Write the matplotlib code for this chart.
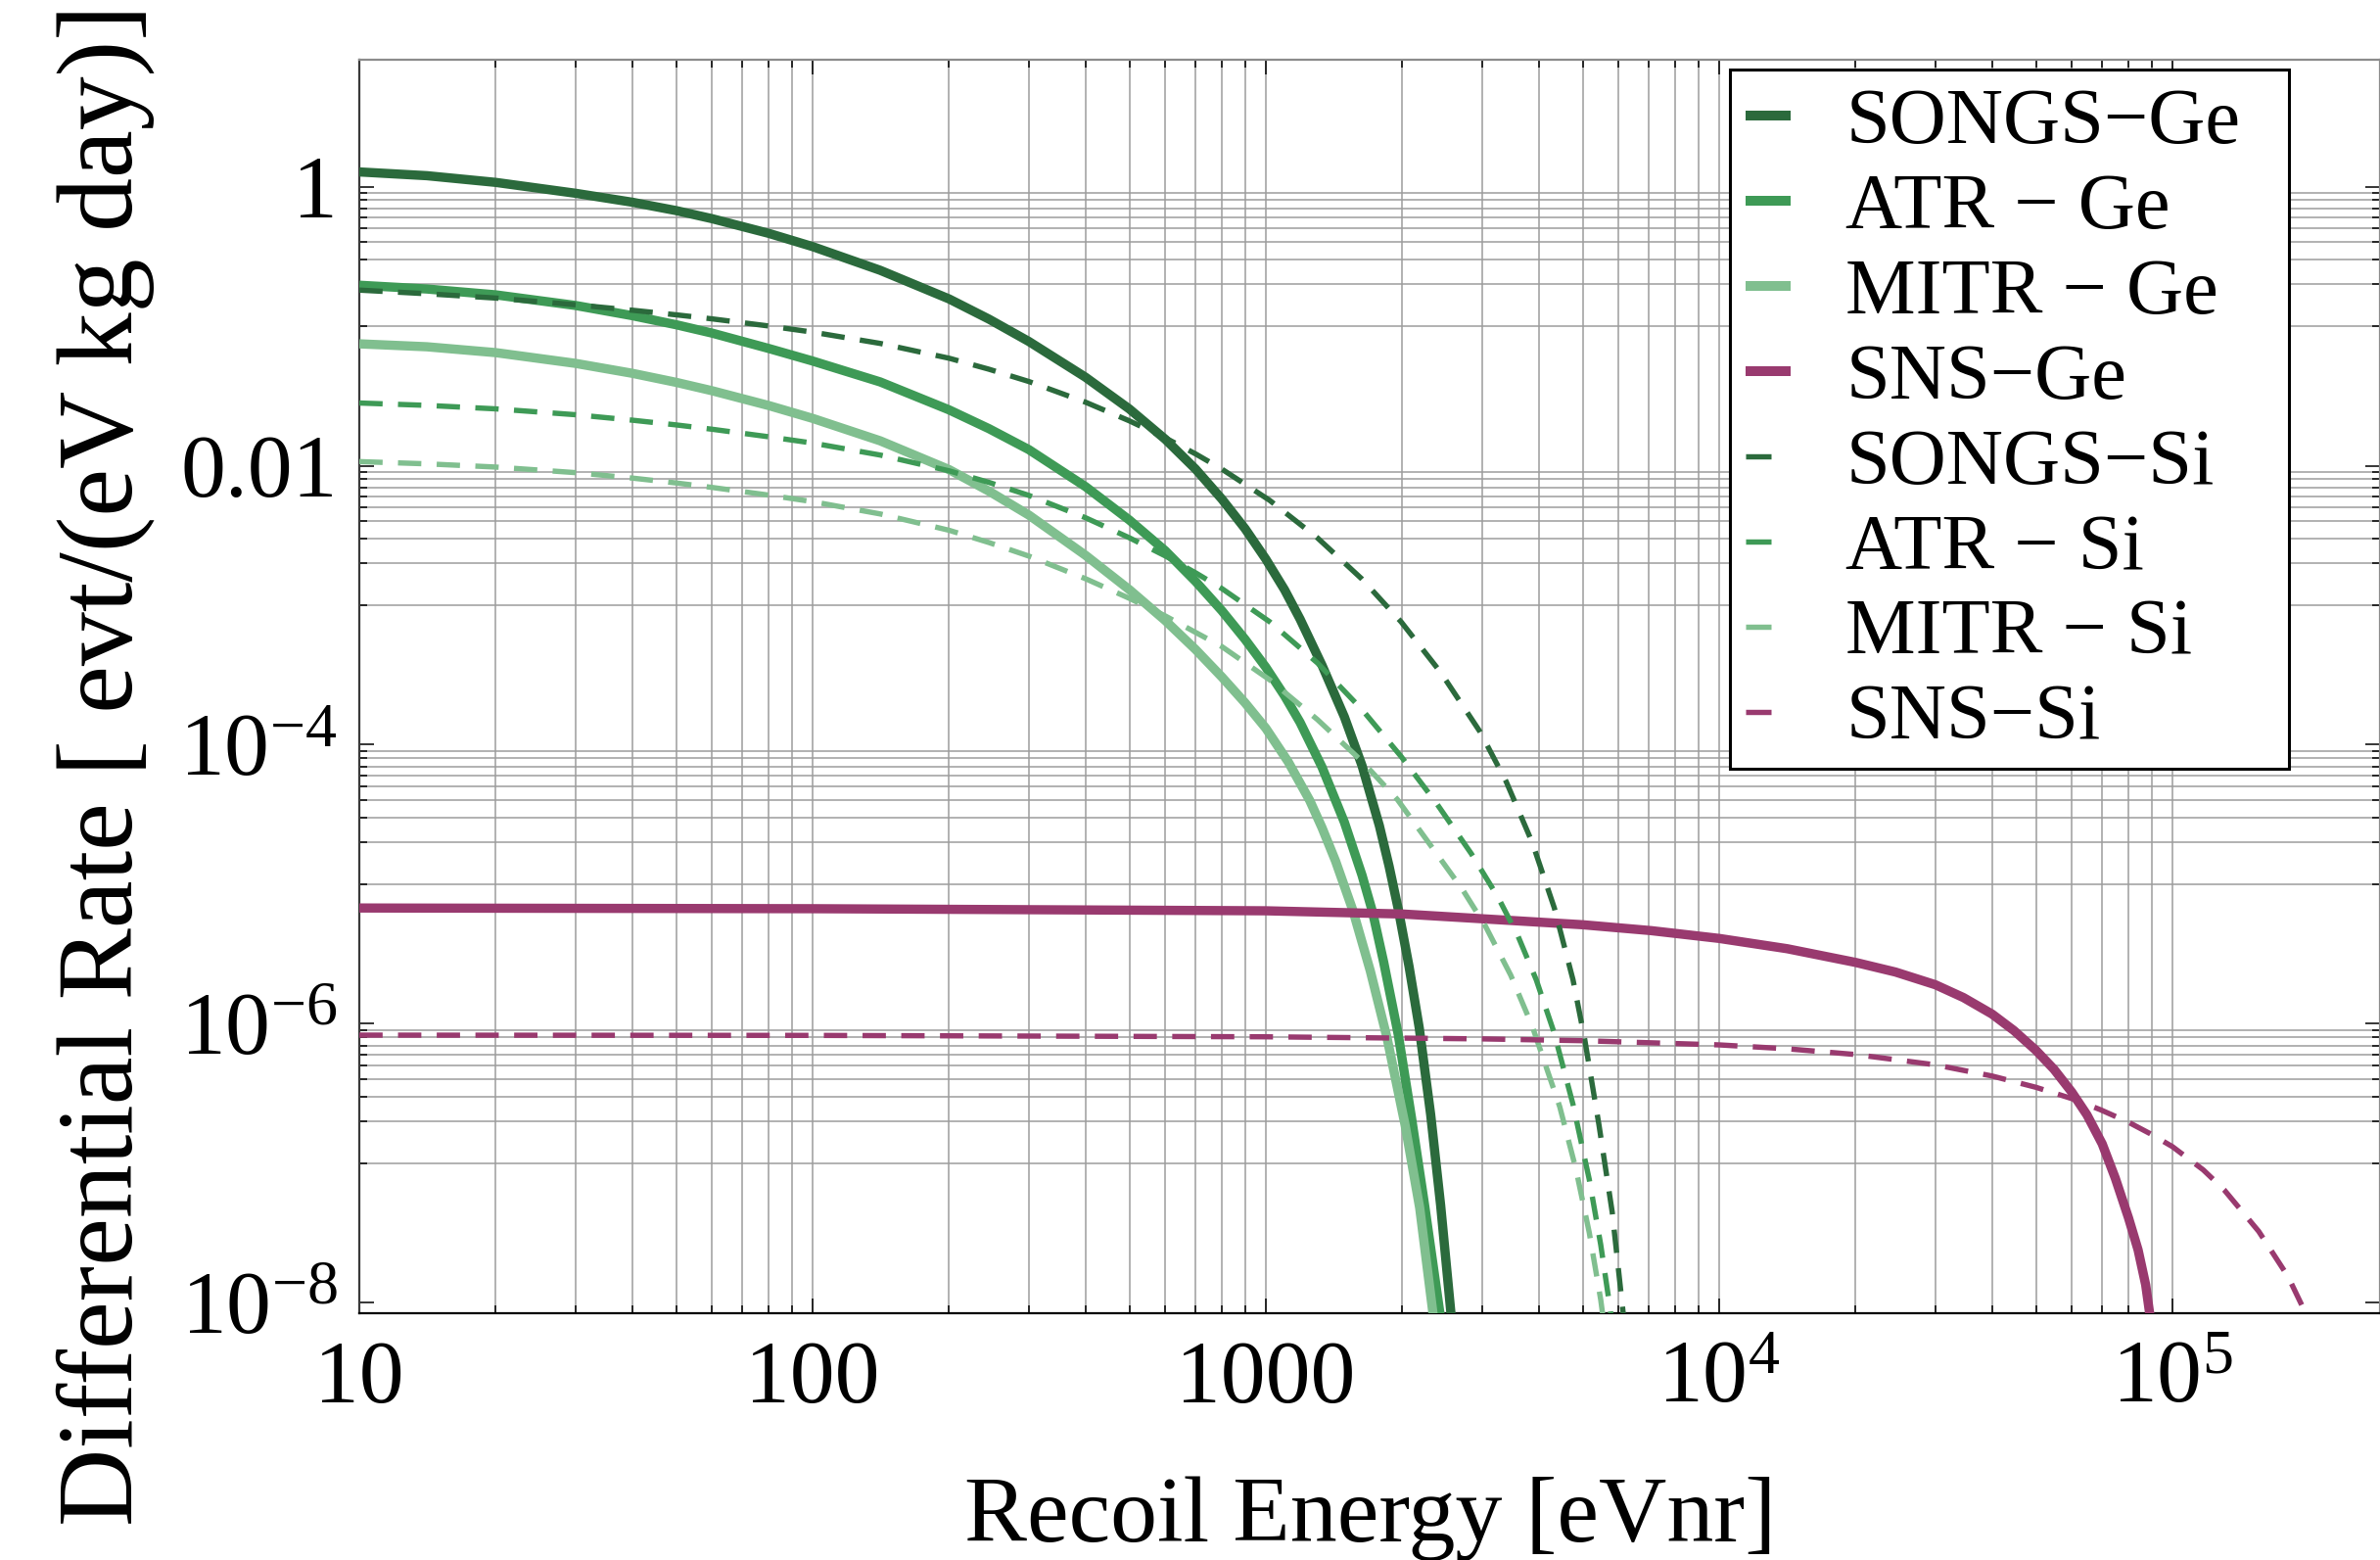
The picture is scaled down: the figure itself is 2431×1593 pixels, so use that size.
import numpy as np
import matplotlib
matplotlib.use("Agg")
import matplotlib.pyplot as plt
from matplotlib.lines import Line2D
from matplotlib.patches import Rectangle
from matplotlib.ticker import FixedLocator, FixedFormatter, NullFormatter

plt.rcParams['font.family'] = ['Liberation Serif', 'DejaVu Serif']
plt.rcParams['mathtext.fontset'] = 'custom'
plt.rcParams['mathtext.rm'] = 'Liberation Serif'
plt.rcParams['mathtext.it'] = 'Liberation Serif:italic'
plt.rcParams['mathtext.bf'] = 'Liberation Serif:bold'

# ------------- data: recoil energy [eVnr] and log10 of differential rate -------------
songs_ge_E = [10, 14.1, 20, 30, 40, 50, 60, 80, 100, 141, 200, 245, 300, 400, 500, 600,
              700, 800, 900, 1000, 1100, 1190, 1330, 1490, 1630, 1780, 1870, 1960, 2070,
              2180, 2310, 2430, 2560, 2620]
songs_ge_logR = [0.105, 0.078, 0.03, -0.048, -0.112, -0.172, -0.23, -0.335, -0.43, -0.60,
                 -0.805, -0.95, -1.11, -1.366, -1.594, -1.811, -2.025, -2.24, -2.452,
                 -2.67, -2.89, -3.10, -3.43, -3.80, -4.15, -4.58, -4.87, -5.18, -5.59,
                 -6.03, -6.65, -7.30, -8.07, -8.45]

atr_ge_E = [10, 14.1, 20, 30, 40, 50, 60, 80, 100, 141, 200, 245, 300, 400, 500, 600,
            700, 800, 900, 1000, 1100, 1190, 1330, 1490, 1630, 1720, 1820, 1960, 2095,
            2240, 2420, 2480]
atr_ge_logR = [-0.707, -0.734, -0.776, -0.852, -0.925, -0.99, -1.05, -1.16, -1.25, -1.40,
               -1.60, -1.735, -1.885, -2.15, -2.39, -2.61, -2.83, -3.04, -3.245, -3.445,
               -3.65, -3.84, -4.16, -4.555, -4.935, -5.20, -5.56, -6.08, -6.67, -7.30,
               -8.07, -8.40]

mitr_ge_E = [10, 14.1, 20, 30, 40, 50, 60, 80, 100, 141, 200, 245, 300, 400, 500, 600,
             700, 800, 900, 1000, 1120, 1250, 1330, 1425, 1556, 1700, 1850, 2030, 2185,
             2334, 2390]
mitr_ge_logR = [-1.127, -1.148, -1.19, -1.267, -1.338, -1.403, -1.463, -1.569, -1.661,
                -1.822, -2.028, -2.183, -2.354, -2.642, -2.889, -3.11, -3.318, -3.515,
                -3.70, -3.882, -4.122, -4.40, -4.594, -4.834, -5.187, -5.621, -6.098,
                -6.73, -7.32, -8.06, -8.36]

sns_ge_E = [10, 100, 1000, 2000, 5000, 7070, 1e4, 1.414e4, 2e4, 2.45e4, 3e4, 3.46e4,
            4e4, 4.47e4, 5e4, 5.48e4, 6e4, 6.48e4, 7e4, 7.48e4, 8e4, 8.4e4, 8.73e4,
            9.02e4, 9.2e4]
sns_ge_logR = [-5.17, -5.175, -5.19, -5.213, -5.29, -5.332, -5.388, -5.462, -5.56,
               -5.629, -5.72, -5.812, -5.93, -6.048, -6.19, -6.326, -6.49, -6.653,
               -6.86, -7.105, -7.39, -7.62, -7.87, -8.20, -8.55]

songs_si_E = [10, 14.1, 20, 30, 40, 50, 60, 80, 100, 141, 200, 245, 300, 400, 500, 600,
              700, 800, 1020, 1300, 1630, 1990, 2430, 2970, 3390, 3870, 4330, 4760, 5050,
              5430, 5810, 6150, 6300]
songs_si_logR = [-0.742, -0.768, -0.799, -0.847, -0.886, -0.919, -0.948, -0.999, -1.043,
                 -1.124, -1.23, -1.309, -1.397, -1.545, -1.679, -1.801, -1.916, -2.025,
                 -2.249, -2.518, -2.813, -3.121, -3.481, -3.908, -4.264, -4.701, -5.17,
                 -5.684, -6.108, -6.722, -7.35, -8.09, -8.45]

atr_si_E = [10, 14.1, 20, 30, 40, 50, 60, 80, 100, 141, 200, 245, 300, 400, 500, 600,
            700, 800, 1020, 1300, 1630, 1990, 2380, 2840, 3250, 3600, 3950, 4320, 4760,
            5170, 5480, 5750, 5900]
atr_si_logR = [-1.551, -1.568, -1.593, -1.635, -1.674, -1.708, -1.739, -1.793, -1.838,
               -1.924, -2.037, -2.12, -2.213, -2.373, -2.517, -2.647, -2.768, -2.881,
               -3.119, -3.414, -3.748, -4.086, -4.42, -4.781, -5.091, -5.371, -5.685,
               -6.059, -6.577, -7.115, -7.583, -8.043, -8.35]

mitr_si_E = [10, 14.1, 20, 30, 40, 50, 60, 80, 100, 141, 200, 245, 300, 400, 500, 600,
             700, 800, 1020, 1300, 1630, 1950, 2320, 2720, 3050, 3470, 3870, 4450, 4830,
             5170, 5480, 5650]
mitr_si_logR = [-1.971, -1.987, -2.01, -2.05, -2.089, -2.124, -2.156, -2.211, -2.258,
                -2.346, -2.463, -2.551, -2.648, -2.81, -2.951, -3.077, -3.195, -3.297,
                -3.535, -3.82, -4.119, -4.392, -4.73, -5.041, -5.299, -5.652, -6.017,
                -6.594, -7.039, -7.496, -7.977, -8.30]

sns_si_E = [10, 100, 1000, 3000, 5000, 1e4, 1.414e4, 2e4, 3e4, 4e4, 5e4, 6e4, 6.93e4,
            8e4, 8.94e4, 1e5, 1.17e5, 1.3e5, 1.55e5, 1.8e5, 1.97e5, 2.1e5]
sns_si_logR = [-6.081, -6.083, -6.093, -6.108, -6.121, -6.151, -6.179, -6.22, -6.294,
               -6.374, -6.455, -6.536, -6.615, -6.705, -6.788, -6.88, -7.047, -7.189,
               -7.487, -7.812, -8.077, -8.33]

labels = ["SONGS\u2212Ge", "ATR \u2212 Ge", "MITR \u2212 Ge", "SNS\u2212Ge",
          "SONGS\u2212Si", "ATR \u2212 Si", "MITR \u2212 Si", "SNS\u2212Si"]

x_major = [10, 100, 1000, 1e4, 1e5]
x_major_labels = ["10", "100", "1000", r"$10^{4}$", r"$10^{5}$"]
y_major = [1, 1e-2, 1e-4, 1e-6, 1e-8]
y_major_labels = ["1", "0.01", r"$10^{-4}$", r"$10^{-6}$", r"$10^{-8}$"]

# ---------------- styling ----------------
c_songs = '#2b6a3c'
c_atr = '#3e9a56'
c_mitr = '#80bf8f'
c_sns = '#993a6f'

W, H = 2431, 1593
fig = plt.figure(figsize=(W / 100, H / 100), dpi=100)
ax = fig.add_axes([367 / W, 1 - 1341 / H, (W - 367) / W, (1341 - 61) / H])
ax.set_xscale('log')
ax.set_yscale('log')
ax.set_xlim(10, 10 ** 5.458)
ax.set_ylim(10 ** -8.074, 10 ** 0.909)
ax.set_axisbelow(True)

solid_lw = 6.8
dash_lw = 3.9
dash_pat = (4.4, 2.9)

series = [
    (songs_ge_E, songs_ge_logR, c_songs, '-'),
    (atr_ge_E, atr_ge_logR, c_atr, '-'),
    (mitr_ge_E, mitr_ge_logR, c_mitr, '-'),
    (sns_ge_E, sns_ge_logR, c_sns, '-'),
    (songs_si_E, songs_si_logR, c_songs, '--'),
    (atr_si_E, atr_si_logR, c_atr, '--'),
    (mitr_si_E, mitr_si_logR, c_mitr, '--'),
    (sns_si_E, sns_si_logR, c_sns, '--'),
]
for E, logR, col, ls in series:
    R = 10.0 ** np.asarray(logR)
    if ls == '-':
        ax.plot(E, R, color=col, lw=solid_lw, solid_capstyle='butt',
                solid_joinstyle='round', zorder=3)
    else:
        ax.plot(E, R, color=col, lw=dash_lw, dashes=dash_pat,
                dash_joinstyle='round', zorder=3.5)

# ticks and grid
x_minor = [m * 10 ** k for k in range(1, 5) for m in range(2, 10)]
y_minor = [m * 10.0 ** (-(2 * k + 1)) for k in range(4) for m in range(1, 10)]
ax.xaxis.set_major_locator(FixedLocator(x_major))
ax.xaxis.set_major_formatter(FixedFormatter(x_major_labels))
ax.xaxis.set_minor_locator(FixedLocator(x_minor))
ax.xaxis.set_minor_formatter(NullFormatter())
ax.yaxis.set_major_locator(FixedLocator(y_major))
ax.yaxis.set_major_formatter(FixedFormatter(y_major_labels))
ax.yaxis.set_minor_locator(FixedLocator(y_minor))
ax.yaxis.set_minor_formatter(NullFormatter())

grid_kw = dict(color='#9c9c9c', linewidth=1.1)
ax.grid(True, which='minor', axis='both', **grid_kw)
ax.xaxis.grid(True, which='major', **grid_kw)
ax.yaxis.grid(False, which='major')

ax.tick_params(which='both', direction='in', top=True, right=True,
               colors='black', width=1.1)
ax.tick_params(which='major', length=11)
ax.tick_params(which='minor', length=5.5)
ax.tick_params(axis='x', which='major', labelsize=66, pad=20)
ax.tick_params(axis='y', which='major', labelsize=66, pad=16)

ax.spines['bottom'].set_color('black')
ax.spines['left'].set_color('#3a3a3a')
ax.spines['top'].set_color('#8c8c8c')
ax.spines['right'].set_color('#8c8c8c')
for s in ax.spines.values():
    s.set_linewidth(1.6)

# axis titles
fig.text(1400 / W, 1 - 1574 / H, 'Recoil Energy [eVnr]', ha='center',
         va='baseline', fontsize=69)
fig.text(108 / W, 1 - 781 / H, 'Differential Rate [ evt/(eV kg day)]',
         rotation=90, ha='center', va='center', fontsize=79)

# legend with a drawn frame
frame = Rectangle((1767 / W, 1 - 785.5 / H), (2338 - 1767) / W, (785.5 - 71.5) / H,
                  transform=fig.transFigure, facecolor='white', edgecolor='black',
                  linewidth=2.2, zorder=4)
fig.add_artist(frame)

handles = []
for col in (c_songs, c_atr, c_mitr, c_sns):
    handles.append(Line2D([], [], color=col, lw=7.2, solid_capstyle='butt'))
for col in (c_songs, c_atr, c_mitr, c_sns):
    handles.append(Line2D([], [], color=col, lw=dash_lw, dashes=(4.8, 30.0)))

leg = fig.legend(handles, labels, loc='upper left',
                 bbox_to_anchor=(1783 / W, 1 - 90 / H),
                 bbox_transform=fig.transFigure, frameon=False, borderpad=0,
                 borderaxespad=0, fontsize=58, handlelength=0.57,
                 handletextpad=0.70, labelspacing=0.168)
leg.set_zorder(5)

fig.savefig('out.png', dpi=100)
